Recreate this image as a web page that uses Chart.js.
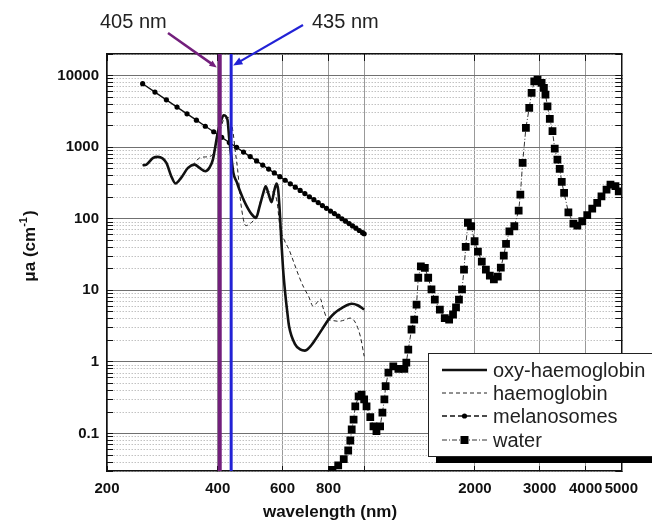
<!DOCTYPE html>
<html>
<head>
<meta charset="utf-8">
<script src="https://cdn.jsdelivr.net/npm/chart.js@4.4.0/dist/chart.umd.min.js"></script>
<style>
  html, body { margin: 0; padding: 0; background: #fff; }
  #wrap { width: 652px; height: 528px; }
</style>
</head>
<body>
<div id="wrap"><canvas id="chart" width="652" height="528"></canvas></div>
<script>
// wavelength (nm) / absorption coefficient (cm^-1)
const oxyWl = [250,256,267,275,290,299,307,318,332,346,357,370,380,388,400,408,415,425,430,436,441,450,458,467,477,495,508,520,532,540,550,560,570,578,584,590,596,602,610,618,625,650,670,690,710,737,770,800,830,871,926,960,1000];
const oxyMua = [558,571,708,731,604,393,311,372,514,571,514,461,520,671,1585,2300,2790,2427,1277,700,438,330,256,200,158,115,103,150,230,285,220,170,250,310,250,120,45,20,9.2,5,3.15,1.75,1.5,1.44,1.6,2.06,2.9,3.9,4.8,5.7,6.5,6.2,5.4];

const deoxyWl = [250,256,267,275,290,299,307,318,332,346,357,370,385,400,415,428,439,447,453,462,477,490,502,515,524,540,556,570,580,590,605,625,645,665,685,706,727,745,760,775,792,820,854,890,916,945,976,1000];
const deoxyMua = [558,571,708,731,604,393,311,372,514,600,708,730,761,1300,2400,2600,1760,832,486,167,80,86,97,130,185,230,240,225,170,78.5,52,37,24,15.7,11,8.3,6.0,6.8,7.6,5.5,4.1,3.8,3.7,3.9,4.1,3.6,2.3,1.2];

const melWl = [250,270,290,310,330,350,370,390,410,430,450,470,490,510,530,550,570,590,610,630,650,670,690,710,730,750,770,790,810,830,850,870,890,910,930,950,970,990,1000];
const melMua = [7690,5880,4580,3630,2920,2380,1960,1640,1370,1160,994,854,739,643,562,494,436,387,345,308,276,249,225,203,185,168,153,140,128,118,109,100,92.6,85.7,79.4,73.8,68.6,63.9,61.7];

const waterWl = [805,820,850,880,905,917,925,936,946,966,984,1000,1015,1039,1060,1080,1105,1121,1135,1144,1164,1200,1239,1286,1302,1318,1345,1368,1388,1403,1426,1462,1493,1524,1556,1606,1656,1702,1744,1777,1810,1845,1868,1888,1914,1954,1996,2038,2088,2142,2196,2252,2308,2352,2396,2430,2482,2560,2630,2658,2696,2752,2810,2852,2900,2960,3036,3080,3110,3150,3196,3250,3296,3352,3400,3444,3495,3590,3704,3797,3916,4040,4168,4300,4416,4558,4672,4820,4920];
const waterMua = [0.026,0.031,0.036,0.044,0.058,0.08,0.114,0.157,0.24,0.33,0.35,0.3,0.24,0.17,0.126,0.108,0.126,0.196,0.3,0.46,0.71,0.87,0.8,0.8,0.98,1.49,2.84,3.9,6.3,15,21.7,20.6,15,10.3,7.4,5.4,4.1,3.9,4.6,5.8,7.4,10.3,19.5,40.5,87.7,78.6,48.5,34.8,25.2,19.5,16.1,14.2,15.6,20.8,30.6,44.6,66.8,78.6,130,218,604,1862,3540,5730,8320,8800,7910,6730,5430,3720,2480,1670,955,671,498,327,230,123,85.7,80.4,92.3,112,139,167,206,256,300,285,242];

const markerWl = [405, 435];
const markerLabels = ['405 nm', '435 nm'];
const seriesLabels = ['oxy-haemoglobin', 'haemoglobin', 'melanosomes', 'water'];

const xTickValues = [200, 400, 600, 800, 1000, 2000, 3000, 4000, 5000];
const xTickLabels = ['200', '400', '600', '800', '', '2000', '3000', '4000', '5000'];
const yDecades = [0.01, 0.1, 1, 10, 100, 1000, 10000];
const yTickLabels = ['', '0.1', '1', '10', '100', '1000', '10000'];

const X_MIN = 200, X_MAX = 5000;
const Y_MIN = 0.03, Y_MAX = 20000;

const PURPLE = '#731f7c';
const BLUE = '#2222d6';
const FONT = '"Liberation Sans", Arial, sans-serif';

function pts(wl, val) {
    return wl.map((w, i) => ({ x: w, y: val[i] }));
}

function isDecade(v) {
    const l = Math.log10(v);
    return Math.abs(l - Math.round(l)) < 1e-9;
}

// decade ticks plus the 2..9 minor ticks inside the range
function yTicks() {
    const out = [];
    yDecades.forEach(d => {
        for (let k = 1; k <= 9; k++) {
            const v = Number((d * k).toPrecision(6));
            if (v >= Y_MIN && v <= Y_MAX) out.push({ value: v });
        }
    });
    return out;
}

function yLabel(v) {
    if (!isDecade(v)) return '';
    const i = yDecades.findIndex(d => Math.abs(d - v) / d < 1e-6);
    return i >= 0 ? yTickLabels[i] : '';
}

function arrow(ctx, x0, y0, x1, y1, color, width, head) {
    const a = Math.atan2(y1 - y0, x1 - x0);
    ctx.strokeStyle = color;
    ctx.fillStyle = color;
    ctx.lineWidth = width;
    ctx.beginPath();
    ctx.moveTo(x0, y0);
    ctx.lineTo(x1 - Math.cos(a) * head * 0.6, y1 - Math.sin(a) * head * 0.6);
    ctx.stroke();
    ctx.beginPath();
    ctx.moveTo(x1, y1);
    ctx.lineTo(x1 - head * Math.cos(a - 0.4), y1 - head * Math.sin(a - 0.4));
    ctx.lineTo(x1 - head * Math.cos(a + 0.4), y1 - head * Math.sin(a + 0.4));
    ctx.closePath();
    ctx.fill();
}

// axis titles, wavelength call-outs and the boxed legend
const decor = {
    id: 'decor',
    afterDraw(chart) {
        const { ctx } = chart;
        const xs = chart.scales.x, ys = chart.scales.y;
        ctx.save();

        ctx.fillStyle = '#111';
        ctx.font = 'bold 17px ' + FONT;
        ctx.textAlign = 'center';
        ctx.textBaseline = 'middle';
        ctx.fillText('wavelength (nm)', 330, 512);

        ctx.save();
        ctx.translate(30, 246);
        ctx.rotate(-Math.PI / 2);
        ctx.textAlign = 'left';
        const big = 'bold 17px ' + FONT, small = 'bold 11px ' + FONT;
        ctx.font = big;
        const w1 = ctx.measureText('μa (cm').width;
        const w3 = ctx.measureText(')').width;
        ctx.font = small;
        const w2 = ctx.measureText('-1').width + 1;
        let sx = -(w1 + w2 + w3) / 2;
        ctx.font = big;
        ctx.fillText('μa (cm', sx, 0);
        ctx.font = small;
        ctx.fillText('-1', sx + w1, -6);
        ctx.font = big;
        ctx.fillText(')', sx + w1 + w2, 0);
        ctx.restore();

        // call-outs
        ctx.font = '20px ' + FONT;
        ctx.fillStyle = '#222';
        ctx.textAlign = 'left';
        ctx.textBaseline = 'alphabetic';
        ctx.fillText(markerLabels[0], 100, 28);
        ctx.fillText(markerLabels[1], 312, 28);
        const tipY = ys.getPixelForValue(13000);
        arrow(ctx, 168, 33, xs.getPixelForValue(markerWl[0]) - 3, tipY, PURPLE, 2.5, 8);
        arrow(ctx, 303, 25, xs.getPixelForValue(markerWl[1]) + 2, tipY - 2, BLUE, 2.2, 10);

        // legend box with drop shadow
        const bx = 428, by = 353, bw = 260, bh = 103;
        ctx.fillStyle = '#000';
        ctx.fillRect(bx + 8, by + 7, bw, bh);
        ctx.fillStyle = '#fff';
        ctx.fillRect(bx, by, bw, bh);
        ctx.strokeStyle = '#222';
        ctx.lineWidth = 1;
        ctx.strokeRect(bx + 0.5, by + 0.5, bw, bh);

        const rows = [370, 393, 416, 440];
        const dashes = [[], [4, 3], [5, 3], [5, 2, 1, 2]];
        const lx0 = 442, lx1 = 487, lmid = 464.5;
        const sets = chart.data.datasets.slice(2);
        rows.forEach((ry, i) => {
            const ds = sets[i];
            ctx.save();
            ctx.strokeStyle = ds.borderColor;
            ctx.lineWidth = ds.borderWidth;
            ctx.setLineDash(dashes[i]);
            ctx.beginPath();
            ctx.moveTo(lx0, ry);
            ctx.lineTo(lx1, ry);
            ctx.stroke();
            ctx.setLineDash([]);
            ctx.fillStyle = '#000';
            if (i === 2) {
                ctx.beginPath();
                ctx.arc(lmid, ry, 2.6, 0, Math.PI * 2);
                ctx.fill();
            } else if (i === 3) {
                ctx.fillRect(lmid - 4, ry - 4, 8, 8);
            }
            ctx.restore();
            ctx.fillStyle = '#222';
            ctx.font = '20px ' + FONT;
            ctx.textBaseline = 'middle';
            ctx.fillText(seriesLabels[i], 493, ry + 1);
        });

        ctx.restore();
    }
};

const tickFont = { family: FONT, size: 15, weight: 'bold' };

const chart = new Chart(document.getElementById('chart').getContext('2d'), {
    type: 'line',
    data: {
        datasets: [{
            label: markerLabels[0],
            data: [{ x: markerWl[0], y: Y_MIN }, { x: markerWl[0], y: Y_MAX }],
            borderColor: PURPLE,
            borderWidth: 4,
            pointRadius: 0
        }, {
            label: markerLabels[1],
            data: [{ x: markerWl[1], y: Y_MIN }, { x: markerWl[1], y: Y_MAX }],
            borderColor: BLUE,
            borderWidth: 3,
            pointRadius: 0
        }, {
            label: seriesLabels[0],
            data: pts(oxyWl, oxyMua),
            borderColor: '#111',
            borderWidth: 2.6,
            pointRadius: 0,
            cubicInterpolationMode: 'monotone'
        }, {
            label: seriesLabels[1],
            data: pts(deoxyWl, deoxyMua),
            borderColor: '#222',
            borderWidth: 1,
            borderDash: [4, 3],
            pointRadius: 0,
            cubicInterpolationMode: 'monotone'
        }, {
            label: seriesLabels[2],
            data: pts(melWl, melMua),
            borderColor: '#111',
            borderWidth: 1.4,
            pointRadius: 2.6,
            pointBorderWidth: 0,
            pointBackgroundColor: '#000'
        }, {
            label: seriesLabels[3],
            data: pts(waterWl, waterMua),
            borderColor: '#333',
            borderWidth: 1,
            borderDash: [5, 2, 1, 2],
            pointStyle: 'rect',
            pointRadius: 5.5,
            pointBorderWidth: 0,
            pointBackgroundColor: '#000'
        }]
    },
    options: {
        responsive: false,
        animation: false,
        devicePixelRatio: 1,
        layout: { padding: { left: 57, top: 54, right: 28, bottom: 27 } },
        plugins: { legend: { display: false }, tooltip: { enabled: false } },
        scales: {
            x: {
                type: 'logarithmic',
                position: 'bottom',
                min: X_MIN,
                max: X_MAX,
                afterBuildTicks: s => { s.ticks = xTickValues.map(v => ({ value: v })); },
                afterFit: s => { s.height = 30; },
                ticks: {
                    autoSkip: false,
                    maxRotation: 0,
                    minRotation: 0,
                    padding: 14,
                    color: '#111',
                    font: tickFont,
                    callback: v => xTickLabels[xTickValues.indexOf(v)] || ''
                },
                grid: { color: '#999', lineWidth: 1, tickLength: -5, tickColor: '#111' },
                border: { color: '#111', width: 1.5 }
            },
            x2: {
                type: 'logarithmic',
                position: 'top',
                min: X_MIN,
                max: X_MAX,
                afterBuildTicks: s => { s.ticks = xTickValues.map(v => ({ value: v })); },
                afterFit: s => { s.height = 0; },
                ticks: { display: false },
                grid: { drawOnChartArea: false, tickLength: -7, tickColor: '#111' },
                border: { color: '#111', width: 1.5 }
            },
            y: {
                type: 'logarithmic',
                position: 'left',
                min: Y_MIN,
                max: Y_MAX,
                afterBuildTicks: s => { s.ticks = yTicks(); },
                afterFit: s => { s.width = 50; },
                ticks: {
                    autoSkip: false,
                    padding: 14,
                    color: '#111',
                    font: tickFont,
                    callback: v => yLabel(v)
                },
                grid: {
                    color: c => (c.tick && !isDecade(c.tick.value)) ? '#c2c2c2' : '#707070',
                    lineWidth: 1,
                    tickLength: -6,
                    tickColor: '#111'
                },
                border: {
                    color: '#111',
                    width: 1.5,
                    dash: c => (c.tick && !isDecade(c.tick.value)) ? [1.5, 1.5] : []
                }
            },
            y2: {
                type: 'logarithmic',
                position: 'right',
                min: Y_MIN,
                max: Y_MAX,
                afterBuildTicks: s => { s.ticks = yTicks(); },
                afterFit: s => { s.width = 0; },
                ticks: { display: false },
                grid: { drawOnChartArea: false, tickLength: -6, tickColor: '#111' },
                border: { color: '#111', width: 1.5 }
            }
        }
    },
    plugins: [decor]
});
</script>
</body>
</html>
